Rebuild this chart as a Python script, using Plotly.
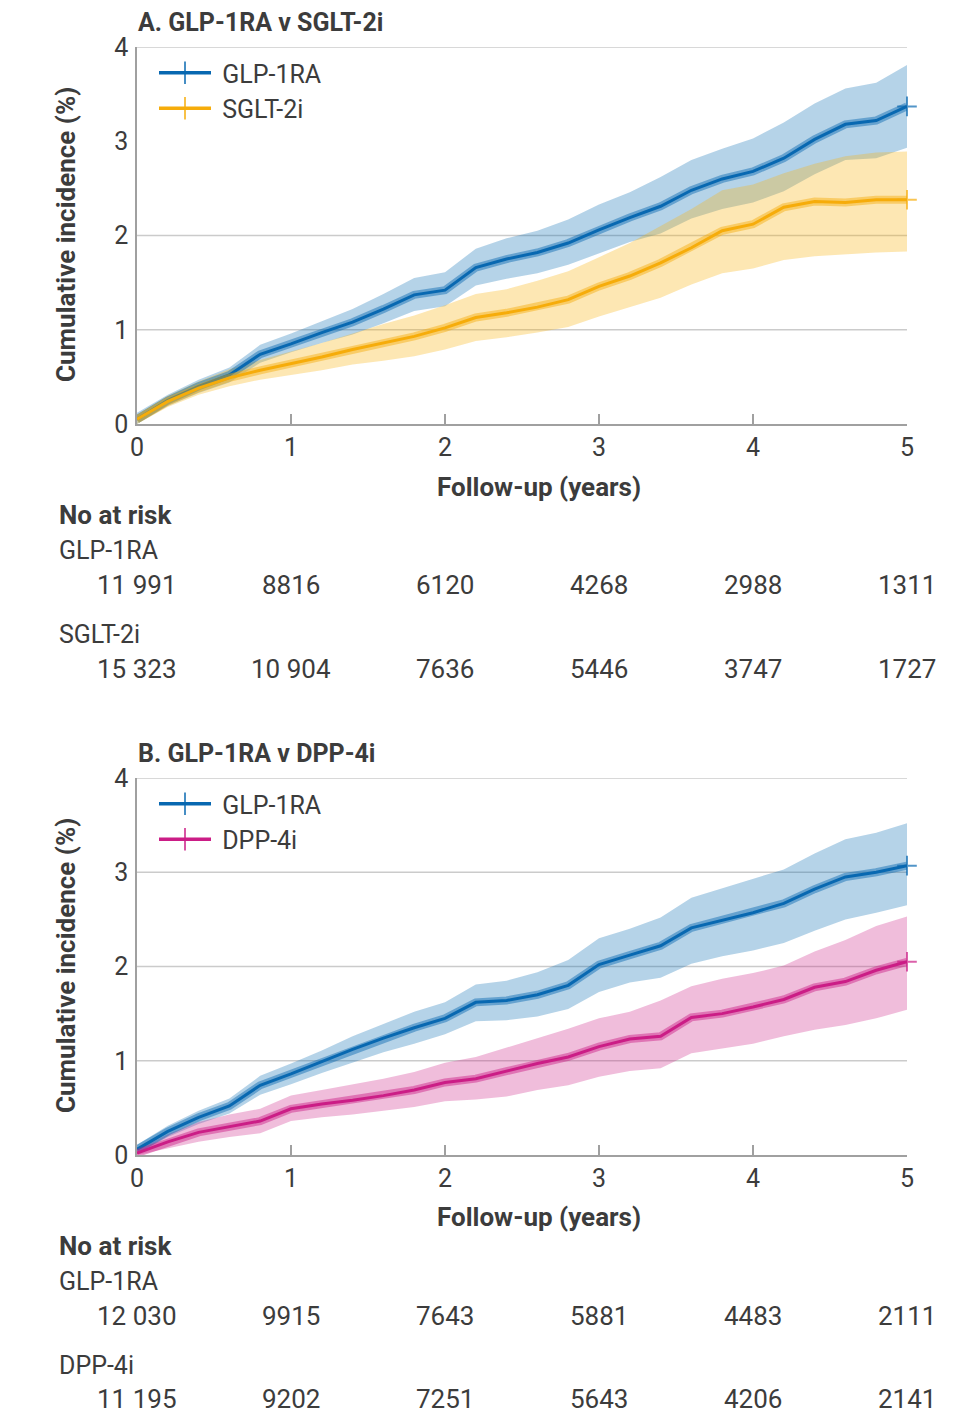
import plotly.graph_objects as go

W, H = 960, 1423

# follow-up grid (years)
t = [0, 0.2, 0.4, 0.6, 0.8, 1.0, 1.2, 1.4, 1.6, 1.8, 2.0, 2.2, 2.4,
     2.6, 2.8, 3.0, 3.2, 3.4, 3.6, 3.8, 4.0, 4.2, 4.4, 4.6, 4.8, 5.0]

# A. GLP-1RA v SGLT-2i  (cumulative incidence, %)
a_glp = [0.05, 0.25, 0.40, 0.52, 0.74, 0.85, 0.97, 1.08, 1.22, 1.37, 1.42, 1.66, 1.75,
         1.82, 1.92, 2.06, 2.19, 2.31, 2.48, 2.60, 2.68, 2.82, 3.02, 3.18, 3.22, 3.37]
a_glp_hi = [0.12, 0.31, 0.47, 0.60, 0.84, 0.96, 1.09, 1.22, 1.38, 1.55, 1.61, 1.86, 1.97,
            2.05, 2.17, 2.33, 2.46, 2.62, 2.80, 2.92, 3.03, 3.20, 3.40, 3.56, 3.62, 3.81]
a_glp_lo = [0.00, 0.19, 0.33, 0.44, 0.65, 0.76, 0.86, 0.95, 1.07, 1.20, 1.25, 1.47, 1.54,
            1.60, 1.69, 1.81, 1.93, 2.02, 2.18, 2.28, 2.35, 2.47, 2.65, 2.80, 2.82, 2.93]
a_sglt = [0.05, 0.24, 0.38, 0.49, 0.57, 0.64, 0.71, 0.79, 0.86, 0.93, 1.02, 1.13, 1.18,
          1.24, 1.32, 1.46, 1.57, 1.71, 1.87, 2.05, 2.12, 2.30, 2.36, 2.35, 2.38, 2.38]
a_sglt_hi = [0.10, 0.30, 0.45, 0.58, 0.68, 0.77, 0.86, 0.96, 1.06, 1.15, 1.26, 1.38, 1.43,
             1.52, 1.62, 1.77, 1.92, 2.10, 2.28, 2.48, 2.54, 2.66, 2.76, 2.84, 2.88, 2.89]
a_sglt_lo = [0.00, 0.18, 0.31, 0.40, 0.47, 0.52, 0.57, 0.63, 0.67, 0.72, 0.79, 0.88, 0.92,
             0.97, 1.03, 1.14, 1.24, 1.34, 1.48, 1.60, 1.65, 1.74, 1.78, 1.80, 1.82, 1.83]

# B. GLP-1RA v DPP-4i
b_glp = [0.06, 0.25, 0.40, 0.52, 0.74, 0.86, 0.99, 1.12, 1.24, 1.35, 1.45, 1.62, 1.64,
         1.70, 1.80, 2.02, 2.12, 2.22, 2.41, 2.49, 2.57, 2.67, 2.82, 2.95, 3.00, 3.07]
b_glp_hi = [0.11, 0.31, 0.47, 0.60, 0.84, 0.97, 1.11, 1.26, 1.39, 1.52, 1.62, 1.81, 1.85,
            1.94, 2.07, 2.30, 2.40, 2.52, 2.73, 2.83, 2.93, 3.03, 3.20, 3.35, 3.42, 3.52]
b_glp_lo = [0.01, 0.19, 0.33, 0.44, 0.64, 0.75, 0.87, 0.98, 1.09, 1.18, 1.28, 1.42, 1.43,
            1.47, 1.55, 1.73, 1.83, 1.88, 2.03, 2.11, 2.17, 2.25, 2.38, 2.50, 2.57, 2.65]
b_dpp = [0.02, 0.14, 0.24, 0.30, 0.36, 0.49, 0.54, 0.58, 0.63, 0.69, 0.77, 0.81, 0.89,
         0.97, 1.04, 1.15, 1.23, 1.26, 1.46, 1.50, 1.57, 1.65, 1.78, 1.84, 1.96, 2.05]
b_dpp_hi = [0.05, 0.22, 0.35, 0.43, 0.49, 0.63, 0.69, 0.75, 0.81, 0.88, 0.98, 1.04, 1.14,
            1.24, 1.34, 1.45, 1.52, 1.64, 1.79, 1.87, 1.93, 2.01, 2.16, 2.28, 2.43, 2.53]
b_dpp_lo = [0.00, 0.07, 0.14, 0.19, 0.23, 0.36, 0.40, 0.43, 0.47, 0.51, 0.57, 0.59, 0.62,
            0.69, 0.74, 0.83, 0.89, 0.92, 1.08, 1.13, 1.18, 1.26, 1.33, 1.38, 1.45, 1.54]

# numbers at risk at years 0-5
risk_years = [0, 1, 2, 3, 4, 5]
risk_a_glp = [11991, 8816, 6120, 4268, 2988, 1311]
risk_a_sglt = [15323, 10904, 7636, 5446, 3747, 1727]
risk_b_glp = [12030, 9915, 7643, 5881, 4483, 2111]
risk_b_dpp = [11195, 9202, 7251, 5643, 4206, 2141]

BLUE, BLUE_BAND = "#0868b1", "rgba(11,108,180,0.30)"
YEL, YEL_BAND = "#f6ac0a", "rgba(248,180,20,0.32)"
PINK, PINK_BAND = "#cb1d86", "rgba(205,35,135,0.30)"
TXT = "#3c3c3c"
AX = "#a0a0a0"
FONT = "Roboto"
SHAPE = "linear"


def py(y):
    return 1 - y / H


def fmt(n):
    return f"{n:,}".replace(",", " ") if n >= 10000 else str(n)


fig = go.Figure()


def add_band(lo, hi, color, xa, ya):
    fig.add_trace(go.Scatter(x=t, y=lo, mode="lines", line=dict(width=0, shape=SHAPE),
                             hoverinfo="skip", showlegend=False, xaxis=xa, yaxis=ya))
    fig.add_trace(go.Scatter(x=t, y=hi, mode="lines", line=dict(width=0, shape=SHAPE),
                             fill="tonexty", fillcolor=color, hoverinfo="skip",
                             showlegend=False, xaxis=xa, yaxis=ya))


def add_curve(y, color, name, xa, ya, legend):
    fig.add_trace(go.Scatter(x=t, y=y, mode="lines", opacity=0.45,
                             line=dict(color=color, width=8, shape=SHAPE),
                             hoverinfo="skip", showlegend=False, xaxis=xa, yaxis=ya))
    # main line, censor tick at the end of follow-up
    fig.add_trace(go.Scatter(x=t, y=y, mode="lines+markers", name=name,
                             line=dict(color=color, width=3, shape=SHAPE),
                             marker=dict(symbol="cross-thin-open",
                                         size=[0] * (len(t) - 1) + [14],
                                         line=dict(color=color, width=2)),
                             cliponaxis=False,
                             showlegend=False, xaxis=xa, yaxis=ya))
    # legend entry with censor tick
    fig.add_trace(go.Scatter(x=[None], y=[None], mode="lines+markers",
                             name="\u00a0" + name,
                             line=dict(color=color, width=3.5),
                             marker=dict(symbol="line-ns-open", size=17,
                                         line=dict(color=color, width=1.5)),
                             legend=legend, xaxis=xa, yaxis=ya))


add_band(a_glp_lo, a_glp_hi, BLUE_BAND, "x", "y")
add_band(a_sglt_lo, a_sglt_hi, YEL_BAND, "x", "y")
add_curve(a_glp, BLUE, "GLP-1RA", "x", "y", "legend")
add_curve(a_sglt, YEL, "SGLT-2i", "x", "y", "legend")

add_band(b_glp_lo, b_glp_hi, BLUE_BAND, "x2", "y2")
add_band(b_dpp_lo, b_dpp_hi, PINK_BAND, "x2", "y2")
add_curve(b_glp, BLUE, "GLP-1RA", "x2", "y2", "legend2")
add_curve(b_dpp, PINK, "DPP-4i", "x2", "y2", "legend2")

xdom = [137 / W, 907 / W]
xax = dict(domain=xdom, range=[0, 5], showline=True, linecolor=AX, linewidth=1.5,
           ticks="inside", ticklen=10, tickwidth=1.5, tickcolor=AX,
           tickvals=[0, 1, 2, 3, 4, 5], showgrid=False, zeroline=False,
           automargin=False,
           tickfont=dict(family=FONT, size=25, color=TXT), fixedrange=True)
yax = dict(range=[0, 4], showline=True, linecolor=AX, linewidth=1.5, ticks="",
           tickvals=[0, 1, 2, 3, 4], showgrid=False, zeroline=False,
           ticklabelstandoff=2, automargin=False,
           tickfont=dict(family=FONT, size=25, color=TXT), fixedrange=True)

leg = dict(bgcolor="rgba(0,0,0,0)", font=dict(family=FONT, size=25, color=TXT),
           itemwidth=52, xanchor="left", yanchor="top", traceorder="normal")

fig.update_layout(
    template="none",
    width=W, height=H, margin=dict(l=0, r=0, t=0, b=0, pad=0),
    paper_bgcolor="white", plot_bgcolor="white",
    xaxis=dict(xax, anchor="y"),
    yaxis=dict(yax, anchor="x", domain=[py(424), py(47)]),
    xaxis2=dict(xax, anchor="y2"),
    yaxis2=dict(yax, anchor="x2", domain=[py(1155), py(778)]),
    legend=dict(leg, x=154 / W, y=py(50)),
    legend2=dict(leg, x=154 / W, y=py(781)),
)

# gridlines (panel A has none at 3)
for g in [1, 2, 4]:
    fig.add_shape(type="line", xref="x", yref="y", x0=0, x1=5, y0=g, y1=g,
                  line=dict(color="#cbcbcb", width=1.5), layer="below")
for g in [1, 2, 3, 4]:
    fig.add_shape(type="line", xref="x2", yref="y2", x0=0, x1=5, y0=g, y1=g,
                  line=dict(color="#cbcbcb", width=1.5), layer="below")


def text(s, x, y, size=25, bold=False, xanchor="left", xref="paper", angle=0):
    fig.add_annotation(text=f"<b>{s}</b>" if bold else s, x=x, y=y, xref=xref,
                       yref="paper", xanchor=xanchor, yanchor="middle",
                       showarrow=False, textangle=angle,
                       font=dict(family=FONT, size=size, color=TXT))


panels = [
    ("A. GLP-1RA v SGLT-2i", 22, 235, 487, 515,
     [("GLP-1RA", risk_a_glp, 550, 585), ("SGLT-2i", risk_a_sglt, 634, 669)], "x"),
    ("B. GLP-1RA v DPP-4i", 753, 966, 1217, 1246,
     [("GLP-1RA", risk_b_glp, 1281, 1316), ("DPP-4i", risk_b_dpp, 1365, 1399)], "x2"),
]
for title, ty, ymid, xt, nar, rows, xr in panels:
    text(title, 136 / W, py(ty), bold=True)
    text("Cumulative incidence (%)", 66 / W, py(ymid), size=26, bold=True,
         xanchor="center", angle=-90)
    text("Follow-up (years)", 539 / W, py(xt), bold=True, size=26, xanchor="center")
    text("No at risk", 57 / W, py(nar), size=26, bold=True)
    for label, counts, ly, ny in rows:
        text(label, 57 / W, py(ly))
        for yr, n in zip(risk_years, counts):
            text(fmt(n), yr, py(ny), size=26, xanchor="center", xref=xr)

fig.write_html("out.html", config={"displayModeBar": False},
               post_script="document.body.style.margin='0';"
                           "document.body.style.overflow='hidden';")
